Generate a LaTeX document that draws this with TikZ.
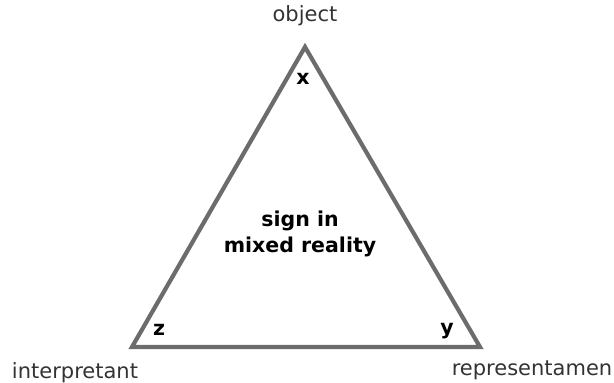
\documentclass[tikz,border=0pt]{standalone}
\usepackage{fontspec}
\setmainfont{DejaVu Sans}
\begin{document}
\begin{tikzpicture}[x=1pt, y=-1pt,
		edge/.style={draw=gray!85!black, line width=4.2pt, line join=miter},
		corner/.style={font=\fontsize{21}{25}\selectfont, text=black!80},
		inner/.style={font=\fontsize{20.5}{26}\selectfont\bfseries}]
	
	% --- 1. frame ---
	\useasboundingbox (0,0) rectangle (614,383);
	
	% --- 2. vertices ---
	\coordinate (obj) at (305,47);
	\coordinate (intp) at (132,347);
	\coordinate (rep) at (480,347);
	
	% --- 3. triangle ---
	\draw[edge] (obj) -- (rep) -- (intp) -- cycle;
	
	% --- 4. vertex names ---
	\node[corner] (lobj) at (305,16) {object};
	\node[corner] (lintp) at (75,373) {interpretant};
	\node[corner] (lrep) at (532,370) {representamen};
	
	% --- 5. inner letters ---
	\node[inner] (x) at (303,79) {x};
	\node[inner] (z) at (159,330) {z};
	\node[inner] (y) at (447,331) {y};
	
	% --- 6. centre text ---
	\node[inner, align=center] (sign) at (300,234) {sign in\\mixed reality};
	
\end{tikzpicture}
\end{document}
